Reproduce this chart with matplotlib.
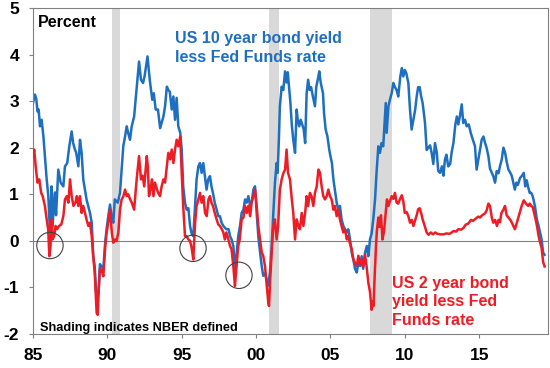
import matplotlib
matplotlib.use("Agg")
import matplotlib.pyplot as plt

plt.rcParams['font.family'] = ['Liberation Sans', 'DejaVu Sans']
plt.rcParams['font.weight'] = 'bold'

# US 10 year bond yield less Fed Funds rate
blue_years = [
    1985.00, 1985.13, 1985.22, 1985.30, 1985.38, 1985.47, 1985.58, 1985.70, 1985.80, 1985.92,
    1986.03, 1986.14, 1986.25, 1986.32, 1986.40, 1986.48, 1986.55, 1986.70, 1986.86, 1987.04,
    1987.15, 1987.30, 1987.44, 1987.60, 1987.70, 1987.82, 1987.90, 1988.05, 1988.16, 1988.27,
    1988.38, 1988.60, 1988.83, 1988.95, 1989.05, 1989.15, 1989.28, 1989.40, 1989.50, 1989.60,
    1989.73, 1989.85, 1989.95, 1990.06, 1990.18, 1990.30, 1990.40, 1990.50, 1990.70, 1990.85,
    1990.96, 1991.07, 1991.19, 1991.30, 1991.40, 1991.52, 1991.64, 1991.80, 1991.97, 1992.13,
    1992.26, 1992.40, 1992.50, 1992.70, 1992.85, 1993.02, 1993.12, 1993.25, 1993.40, 1993.55,
    1993.77, 1993.88, 1994.00, 1994.10, 1994.20, 1994.33, 1994.44, 1994.55, 1994.66, 1994.77,
    1994.90, 1995.00, 1995.10, 1995.22, 1995.33, 1995.45, 1995.56, 1995.67, 1995.78, 1995.90,
    1996.00, 1996.12, 1996.23, 1996.34, 1996.45, 1996.56, 1996.67, 1996.78, 1996.90, 1997.00,
    1997.10, 1997.22, 1997.35, 1997.46, 1997.57, 1997.68, 1997.80, 1998.00, 1998.15, 1998.25,
    1998.35, 1998.47, 1998.58, 1998.63, 1998.70, 1998.80, 1998.92, 1999.03, 1999.15, 1999.26,
    1999.37, 1999.48, 1999.60, 1999.70, 1999.82, 1999.93, 2000.04, 2000.15, 2000.27, 2000.38,
    2000.48, 2000.60, 2000.70, 2000.82, 2000.93, 2001.05, 2001.16, 2001.27, 2001.38, 2001.45,
    2001.54, 2001.60, 2001.72, 2001.83, 2001.95, 2002.05, 2002.13, 2002.22, 2002.30, 2002.40,
    2002.50, 2002.62, 2002.73, 2002.80, 2002.90, 2003.00, 2003.10, 2003.20, 2003.30, 2003.40,
    2003.50, 2003.60, 2003.70, 2003.82, 2003.96, 2004.05, 2004.19, 2004.25, 2004.35, 2004.50,
    2004.57, 2004.68, 2004.80, 2004.92, 2005.00, 2005.10, 2005.20, 2005.30, 2005.42, 2005.53,
    2005.64, 2005.75, 2005.87, 2005.98, 2006.10, 2006.20, 2006.32, 2006.43, 2006.54, 2006.65,
    2006.77, 2006.88, 2007.00, 2007.10, 2007.20, 2007.33, 2007.45, 2007.55, 2007.66, 2007.77,
    2007.88, 2008.00, 2008.10, 2008.22, 2008.33, 2008.44, 2008.55, 2008.67, 2008.72, 2008.78,
    2008.90, 2009.00, 2009.12, 2009.23, 2009.34, 2009.45, 2009.56, 2009.70, 2009.80, 2009.90,
    2010.00, 2010.10, 2010.24, 2010.35, 2010.46, 2010.58, 2010.70, 2010.80, 2010.90, 2011.00,
    2011.10, 2011.20, 2011.36, 2011.47, 2011.58, 2011.70, 2011.80, 2011.92, 2012.03, 2012.15,
    2012.25, 2012.37, 2012.50, 2012.60, 2012.70, 2012.80, 2012.92, 2013.05, 2013.15, 2013.27,
    2013.40, 2013.50, 2013.60, 2013.70, 2013.83, 2013.93, 2014.05, 2014.16, 2014.30, 2014.45,
    2014.55, 2014.65, 2014.72, 2014.83, 2014.95, 2015.06, 2015.17, 2015.29, 2015.40, 2015.50,
    2015.62, 2015.73, 2015.85, 2015.95, 2016.07, 2016.18, 2016.30, 2016.40, 2016.52, 2016.63,
    2016.74, 2016.85, 2016.97, 2017.10, 2017.20, 2017.30, 2017.40, 2017.50, 2017.60, 2017.75,
    2017.86, 2018.00, 2018.10, 2018.20, 2018.30, 2018.40, 2018.50, 2018.60, 2018.75, 2018.88,
    2019.00, 2019.10, 2019.20, 2019.30, 2019.40,
]
blue_vals = [
    2.96, 3.14, 3.05, 2.78, 2.82, 2.46, 2.60, 2.24, 1.82, 1.32,
    0.96, 0.18, 1.17, 0.32, 0.80, 1.04, 0.55, 1.53, 1.25, 1.17,
    1.60, 1.67, 2.03, 2.35, 2.10, 1.96, 1.90, 1.60, 2.17, 1.89,
    1.32, 0.89, 0.60, 0.39, -0.33, -0.55, -1.30, -1.15, -0.50, -0.55,
    -0.60, -0.05, 0.25, 0.53, 0.78, 0.50, 0.39, 0.89, 0.82, 1.03,
    1.53, 2.03, 2.24, 2.46, 2.32, 2.17, 2.46, 2.67, 3.28, 3.85,
    3.46, 3.39, 3.53, 3.96, 3.46, 3.03, 3.17, 2.82, 2.82, 2.42,
    2.67, 2.89, 3.31, 3.24, 3.20, 2.82, 3.10, 2.60, 3.07, 2.46,
    2.32, 1.96, 1.17, 0.82, 0.67, 0.70, 0.32, 0.15, 0.10, 0.75,
    1.32, 1.60, 1.67, 1.46, 1.67, 1.39, 1.10, 1.32, 1.39, 1.17,
    1.03, 0.82, 0.67, 0.53, 0.53, 0.39, 0.32, 0.25, 0.25, 0.10,
    0.03, -0.11, -0.54, -0.68, -0.25, 0.10, 0.32, 0.60, 0.67, 0.89,
    0.82, 0.96, 0.75, 0.82, 1.10, 1.17, 0.60, 0.10, -0.25, -0.54,
    -0.75, -0.70, -0.82, -0.96, -0.68, -0.11, 0.60, 1.25, 1.67, 1.46,
    2.24, 2.89, 3.31, 3.24, 3.64, 3.40, 3.62, 3.30, 3.00, 2.50,
    2.17, 1.89, 2.82, 2.60, 2.46, 2.60, 2.50, 2.40, 2.10, 3.17,
    3.46, 3.24, 3.30, 3.10, 2.89, 3.31, 3.53, 3.64, 3.39, 3.17,
    2.74, 2.39, 2.24, 1.96, 1.82, 1.67, 1.32, 1.10, 0.82, 0.67,
    0.75, 0.46, 0.32, 0.25, 0.18, 0.25, 0.03, -0.25, -0.40, -0.60,
    -0.68, -0.47, -0.54, -0.33, -0.60, -0.25, -0.11, -0.33, 0.03, 0.16,
    0.46, 0.89, 1.46, 2.03, 1.89, 2.10, 2.03, 2.67, 2.96, 2.32,
    2.89, 3.03, 3.17, 3.39, 3.30, 3.24, 3.10, 3.53, 3.71, 3.53,
    3.67, 3.60, 3.39, 2.82, 2.39, 2.60, 2.82, 3.10, 3.30, 3.30,
    3.10, 2.96, 2.53, 1.95, 2.00, 2.05, 1.90, 1.65, 2.10, 1.90,
    1.50, 1.46, 1.60, 1.40, 1.75, 1.85, 1.60, 1.65, 1.90, 2.10,
    2.50, 2.67, 2.50, 2.67, 2.93, 2.53, 2.60, 2.46, 2.50, 2.30,
    2.20, 2.10, 2.03, 1.53, 1.75, 1.96, 2.17, 2.24, 2.10, 2.00,
    1.82, 1.55, 1.46, 1.39, 1.25, 1.50, 1.45, 1.60, 1.75, 2.00,
    1.90, 1.70, 1.53, 1.46, 1.39, 1.25, 1.10, 1.25, 1.20, 1.35,
    1.39, 1.46, 1.17, 1.30, 1.15, 1.03, 1.03, 0.96, 0.75, 0.46,
    0.32, 0.18, 0.03, -0.25, -0.30,
]

# US 2 year bond yield less Fed Funds rate
red_years = [
    1985.00, 1985.08, 1985.18, 1985.30, 1985.42, 1985.55, 1985.65, 1985.80, 1985.92, 1986.02,
    1986.10, 1986.18, 1986.25, 1986.32, 1986.42, 1986.52, 1986.62, 1986.75, 1986.90, 1987.04,
    1987.15, 1987.27, 1987.38, 1987.49, 1987.60, 1987.72, 1987.85, 1987.95, 1988.05, 1988.16,
    1988.27, 1988.38, 1988.49, 1988.60, 1988.72, 1988.83, 1988.95, 1989.05, 1989.15, 1989.28,
    1989.35, 1989.42, 1989.50, 1989.60, 1989.73, 1989.85, 1989.95, 1990.06, 1990.18, 1990.30,
    1990.40, 1990.50, 1990.62, 1990.74, 1990.85, 1990.96, 1991.07, 1991.19, 1991.30, 1991.40,
    1991.52, 1991.64, 1991.80, 1991.97, 1992.13, 1992.26, 1992.37, 1992.48, 1992.65, 1992.72,
    1992.80, 1992.90, 1993.00, 1993.10, 1993.20, 1993.40, 1993.54, 1993.65, 1993.77, 1993.88,
    1994.00, 1994.10, 1994.22, 1994.33, 1994.44, 1994.55, 1994.66, 1994.77, 1994.90, 1995.00,
    1995.10, 1995.22, 1995.33, 1995.45, 1995.56, 1995.67, 1995.78, 1995.90, 1996.00, 1996.12,
    1996.23, 1996.34, 1996.45, 1996.57, 1996.68, 1996.80, 1996.90, 1997.00, 1997.10, 1997.22,
    1997.35, 1997.46, 1997.57, 1997.70, 1997.80, 1997.90, 1998.00, 1998.12, 1998.25, 1998.35,
    1998.47, 1998.58, 1998.65, 1998.80, 1998.90, 1999.03, 1999.15, 1999.26, 1999.37, 1999.48,
    1999.60, 1999.70, 1999.82, 1999.93, 2000.04, 2000.15, 2000.27, 2000.38, 2000.48, 2000.60,
    2000.70, 2000.82, 2000.87, 2000.95, 2001.05, 2001.16, 2001.27, 2001.38, 2001.48, 2001.60,
    2001.72, 2001.83, 2001.95, 2002.05, 2002.15, 2002.28, 2002.40, 2002.50, 2002.62, 2002.73,
    2002.85, 2002.95, 2003.07, 2003.18, 2003.30, 2003.40, 2003.50, 2003.62, 2003.73, 2003.85,
    2003.96, 2004.08, 2004.19, 2004.30, 2004.41, 2004.52, 2004.63, 2004.75, 2004.86, 2004.97,
    2005.08, 2005.20, 2005.30, 2005.42, 2005.53, 2005.64, 2005.75, 2005.87, 2005.98, 2006.10,
    2006.20, 2006.30, 2006.43, 2006.54, 2006.65, 2006.77, 2006.88, 2007.00, 2007.10, 2007.20,
    2007.33, 2007.45, 2007.55, 2007.66, 2007.77, 2007.83, 2007.90, 2007.97, 2008.05, 2008.12,
    2008.22, 2008.30, 2008.40, 2008.50, 2008.60, 2008.72, 2008.80, 2008.90, 2009.00, 2009.12,
    2009.23, 2009.34, 2009.45, 2009.56, 2009.68, 2009.80, 2009.90, 2010.00, 2010.12, 2010.24,
    2010.35, 2010.47, 2010.58, 2010.70, 2010.80, 2010.90, 2011.00, 2011.10, 2011.20, 2011.36,
    2011.47, 2011.60, 2011.75, 2011.90, 2012.05, 2012.20, 2012.40, 2012.60, 2012.80, 2013.00,
    2013.15, 2013.27, 2013.45, 2013.60, 2013.80, 2013.95, 2014.10, 2014.27, 2014.45, 2014.60,
    2014.70, 2014.85, 2014.95, 2015.06, 2015.20, 2015.40, 2015.50, 2015.62, 2015.73, 2015.85,
    2015.95, 2016.07, 2016.20, 2016.30, 2016.40, 2016.50, 2016.63, 2016.74, 2016.85, 2016.97,
    2017.10, 2017.20, 2017.30, 2017.40, 2017.50, 2017.60, 2017.73, 2017.86, 2018.00, 2018.10,
    2018.20, 2018.30, 2018.40, 2018.50, 2018.60, 2018.70, 2018.80, 2018.90, 2019.00, 2019.10,
    2019.20, 2019.30, 2019.40,
]
red_vals = [
    1.80, 1.96, 1.60, 1.25, 1.32, 1.03, 0.96, 0.75, 0.46, 0.25,
    -0.33, -0.10, 0.46, 0.03, 0.10, 0.32, 0.25, 0.32, 0.35, 0.53,
    0.89, 0.96, 0.82, 1.32, 0.96, 0.75, 0.82, 0.96, 0.75, 0.96,
    0.60, 0.75, 0.60, 0.46, 0.32, 0.39, 0.10, -0.33, -0.68, -1.55,
    -1.59, -1.05, -0.60, -0.62, -0.76, -0.15, 0.18, 0.39, 0.67, 0.18,
    -0.04, 0.03, 0.00, 0.18, 0.67, 0.89, 0.95, 1.10, 0.96, 1.00,
    0.90, 0.82, 0.67, 1.32, 1.82, 1.32, 1.40, 1.17, 1.82, 1.60,
    0.96, 1.10, 1.32, 0.96, 1.25, 1.04, 0.96, 1.17, 1.32, 1.25,
    1.60, 1.89, 1.75, 1.96, 1.67, 1.96, 2.17, 2.03, 2.24, 1.46,
    0.75, 0.10, 0.10, 0.03, 0.00, -0.15, -0.40, 0.39, 0.75, 0.89,
    1.03, 0.82, 0.96, 0.60, 0.53, 0.89, 0.96, 0.82, 0.75, 0.60,
    0.46, 0.35, 0.32, 0.25, 0.18, 0.03, 0.18, 0.05, -0.11, -0.18,
    -0.54, -0.97, -0.68, -0.11, 0.03, 0.46, 0.50, 0.75, 0.60, 0.75,
    0.53, 0.82, 0.96, 1.10, 0.75, 0.32, 0.03, -0.25, -0.32, -0.54,
    -0.90, -1.32, -1.40, -0.82, -0.25, 0.32, 0.46, 0.03, 0.30, 1.10,
    1.32, 1.45, 1.53, 1.96, 1.46, 1.32, 0.90, 0.60, 0.03, 0.46,
    0.32, 0.25, 0.60, 0.32, 0.60, 0.96, 0.75, 1.03, 0.96, 0.75,
    1.03, 1.17, 1.53, 1.46, 1.17, 0.96, 0.89, 0.96, 1.10, 0.96,
    0.89, 0.67, 0.75, 0.53, 0.67, 0.46, 0.32, 0.18, 0.25, 0.03,
    0.10, -0.04, -0.18, -0.40, -0.47, -0.54, -0.32, -0.50, -0.40, -0.55,
    -0.30, -0.60, -0.90, -1.10, -1.48, -1.30, -1.40, -0.80, -0.20, 0.20,
    0.50, 0.30, 0.55, 0.03, 0.20, 0.60, 0.89, 0.75, 0.85, 0.96,
    0.90, 1.03, 0.82, 0.80, 0.90, 0.98, 0.85, 0.60, 0.62, 0.53,
    0.39, 0.45, 0.32, 0.45, 0.55, 0.68, 0.70, 0.60, 0.46, 0.30,
    0.18, 0.13, 0.18, 0.14, 0.18, 0.15, 0.14, 0.14, 0.16, 0.15,
    0.18, 0.21, 0.20, 0.25, 0.24, 0.28, 0.35, 0.37, 0.45, 0.43,
    0.46, 0.50, 0.52, 0.50, 0.55, 0.59, 0.65, 0.80, 0.75, 0.50,
    0.39, 0.45, 0.32, 0.45, 0.40, 0.60, 0.67, 0.75, 0.55, 0.50,
    0.45, 0.39, 0.32, 0.25, 0.35, 0.46, 0.60, 0.75, 0.87, 0.82,
    0.78, 0.75, 0.80, 0.75, 0.73, 0.60, 0.46, 0.30, 0.10, -0.04,
    -0.15, -0.45, -0.55,
]

# NBER recessions as shaded on the chart
recessions = [(1990.28, 1990.85), (2000.9, 2001.55), (2007.66, 2009.15)]

# circled yield-curve inversions (year, value)
circle_years = [1986.14, 1995.76, 1998.85]
circle_vals = [-0.10, -0.16, -0.74]

x_ticks = [1985, 1990, 1995, 2000, 2005, 2010, 2015]
x_labels = ['85', '90', '95', '00', '05', '10', '15']
y_ticks = [-2, -1, 0, 1, 2, 3, 4, 5]
y_labels = ['-2', '-1', '0', '1', '2', '3', '4', '5']

blue = '#1f6fc1'
red = '#ee1c25'
grey = '#808080'

fig = plt.figure(figsize=(5.5, 3.68), dpi=100)
ax = fig.add_axes([33 / 550, 1 - 334 / 368, 515 / 550, 326 / 368])

for start, end in recessions:
    ax.axvspan(start, end, color='#d9d9d9', lw=0, zorder=0)

ax.axhline(0, color=grey, lw=0.8, zorder=1)
ax.plot(blue_years, blue_vals, color=blue, lw=1.8, zorder=2)
ax.plot(red_years, red_vals, color=red, lw=1.8, zorder=3)
ax.scatter(circle_years, circle_vals, s=360, facecolors='none',
           edgecolors='#404040', linewidths=0.8, zorder=4)

ax.set_xlim(1985, 2019.63)
ax.set_ylim(-2, 5)
ax.set_xticks(x_ticks)
ax.set_xticklabels(x_labels)
ax.set_yticks(y_ticks)
ax.set_yticklabels(y_labels)
ax.tick_params(axis='both', labelsize=12.5, length=3, width=0.8, color=grey, pad=7)
for s in ax.spines.values():
    s.set_color(grey)
    s.set_linewidth(0.8)

# text placed by pixel position inside the axes box
def fx(px):
    return (px - 33) / 515

def fy(py):
    return (334 - py) / 326

ax.text(fx(38), fy(26.7), 'Percent', transform=ax.transAxes,
        fontsize=11.5, fontweight='bold', va='baseline')

blue_label = ['US 10 year bond yield', 'less Fed Funds rate']
for i, line in enumerate(blue_label):
    ax.text(fx(175), fy(43.3 + 18.3 * i), line, transform=ax.transAxes,
            fontsize=11.5, fontweight='bold', color=blue, va='baseline')

red_label = ['US 2 year bond', 'yield less Fed', 'Funds rate']
for i, line in enumerate(red_label):
    ax.text(fx(391.7), fy(288 + 18.3 * i), line, transform=ax.transAxes,
            fontsize=11.5, fontweight='bold', color=red, va='baseline')

ax.text(fx(40), fy(330.7), 'Shading indicates NBER defined', transform=ax.transAxes,
        fontsize=9.2, fontweight='bold', va='baseline')

fig.savefig('out.png', dpi=100)
